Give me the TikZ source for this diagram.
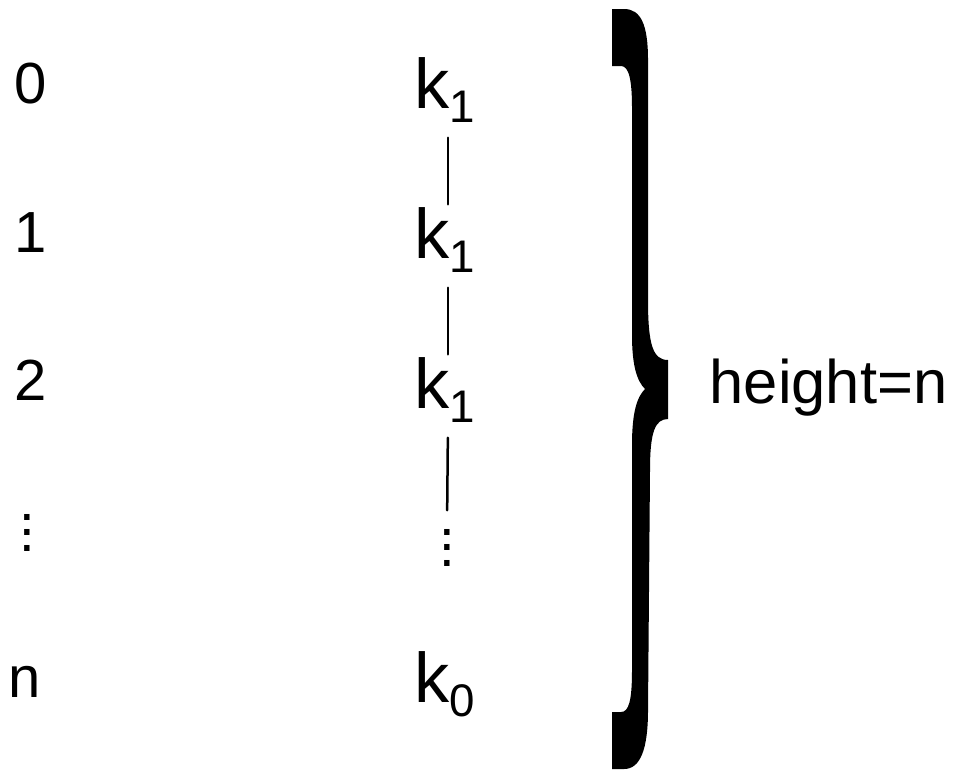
\documentclass[tikz,border=0pt]{standalone}
\usepackage{fontspec}
\setmainfont{Liberation Sans}
\usetikzlibrary{positioning}

\newcommand\sub[1]{\raisebox{-1.4mm}{\fontsize{13}{13}\selectfont #1}}
\newcommand\dotcol{\vbox{\baselineskip=1.55mm \lineskiplimit=-1mm \hbox{.}\hbox{.}\hbox{.}}}

\tikzset{
  lvl/.style={anchor=base west,inner sep=0pt,font=\fontsize{16.5}{16.5}\selectfont},
  key/.style={anchor=base west,inner sep=0pt,font=\fontsize{20}{20}\selectfont},
  dotsnode/.style={anchor=base,inner sep=0pt,font=\fontsize{16}{16}\selectfont},
  link/.style={line width=0.25mm},
}

\begin{document}
\begin{tikzpicture}[line cap=round,line join=round,x=0.1mm,y=-0.1mm]
  \useasboundingbox (0,0) rectangle (967,770);
  % levels
  \foreach \i/\y in {0/103,1/252,2/400} {
    \node[lvl] (l\i) at (14,\y) {\i};
  }
  \node[dotsnode] (ld) at (27,551) {\dotcol};
  \node[lvl] (ln) at (8,697) {n};
  % keys
  \foreach \i/\y in {0/108,1/258,2/408} {
    \node[key] (k\i) at (414,\y) {k\sub{1}};
  }
  \node[dotsnode] (kd) at (447,566) {\dotcol};
  \node[key] (kn) at (414,702) {k\sub{0}};
  \draw[link,shorten <=1.5mm,shorten >=0.2mm] ([xshift=0.3mm]k0.south) -- ([xshift=0.3mm]k1.north);
  \draw[link,shorten <=1.5mm,shorten >=0.2mm] ([xshift=0.3mm]k1.south) -- ([xshift=0.3mm]k2.north);
  \draw[link,shorten <=1.5mm,shorten >=1.8mm] ([xshift=0.3mm]k2.south) -- (kd.north);
  % brace
  \fill (612,9) -- (624,9) .. controls (641,9) and (648,25) .. (648,60)
    -- (648,300) .. controls (648,345) and (653,360) .. (668,360)
    -- (668,419) .. controls (655,419) and (650,432) .. (650,470)
    -- (648,710) .. controls (648,750) and (640,769) .. (624,769)
    -- (612,769) -- (612,712) -- (621,712) .. controls (629,712) and (632,700) .. (632,670)
    -- (632,445) .. controls (632,412) and (637,397) .. (645,389)
    .. controls (637,381) and (632,366) .. (632,335)
    -- (632,108) .. controls (632,80) and (629,66) .. (621,66)
    -- (612,66) -- cycle;
  \node[lvl,font=\fontsize{17.5}{17.5}\selectfont] (h) at (709,403) {height=n};
\end{tikzpicture}
\end{document}
